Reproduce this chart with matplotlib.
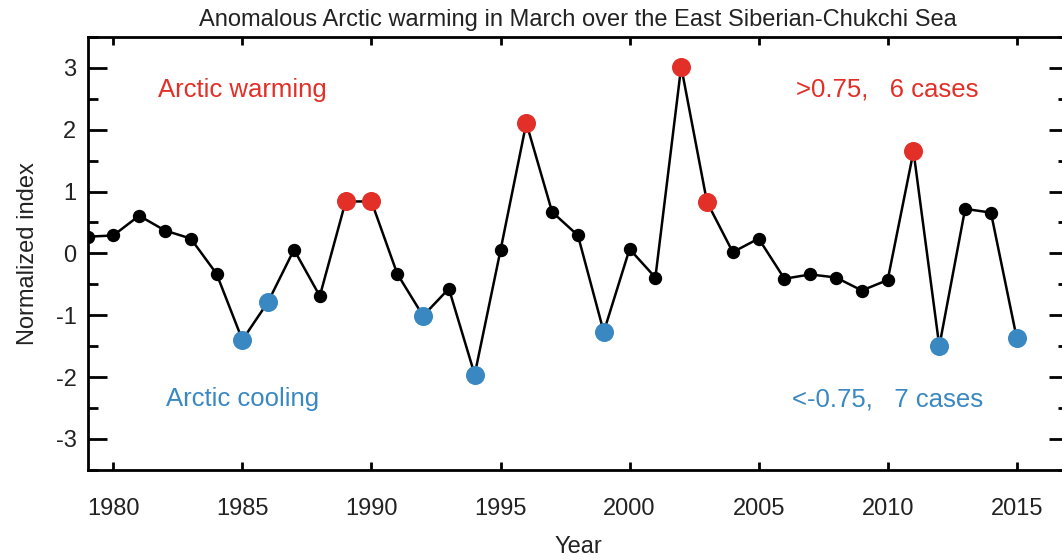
import matplotlib
matplotlib.use('Agg')
import matplotlib.pyplot as plt
from matplotlib.ticker import MultipleLocator

plt.rcParams['font.family'] = ['Liberation Sans', 'DejaVu Sans']
plt.rcParams['axes.unicode_minus'] = False

years = list(range(1979, 2016))
index = [0.27, 0.29, 0.61, 0.37, 0.24, -0.33, -1.40, -0.78, 0.06, -0.69,
         0.84, 0.84, -0.33, -1.01, -0.57, -1.96, 0.05, 2.11, 0.67, 0.29,
         -1.27, 0.07, -0.39, 3.02, 0.83, 0.02, 0.24, -0.41, -0.34, -0.39,
         -0.60, -0.43, 1.65, -1.50, 0.72, 0.66, -1.37]
threshold = 0.75

red = '#e22f27'
blue = '#3a88c2'

warm_x = [y for y, v in zip(years, index) if v > threshold]
warm_y = [v for v in index if v > threshold]
cool_x = [y for y, v in zip(years, index) if v < -threshold]
cool_y = [v for v in index if v < -threshold]

fig = plt.figure(figsize=(10.62, 5.6), dpi=100)
ax = fig.add_axes([0.0824, 0.161, 0.9236, 0.773])

ax.plot(years, index, color='black', lw=1.8, marker='o', ms=8.6, zorder=2)
ax.plot(warm_x, warm_y, 'o', color=red, ms=13.7, mec='none', zorder=3)
ax.plot(cool_x, cool_y, 'o', color=blue, ms=13.7, mec='none', zorder=3)

ax.text(1985, 2.65, 'Arctic warming', color=red, fontsize=18.5,
        ha='center', va='center')
ax.text(2010, 2.65, '>0.75,   %d cases' % len(warm_x), color=red,
        fontsize=18.5, ha='center', va='center')
ax.text(1985, -2.36, 'Arctic cooling', color=blue, fontsize=18.5,
        ha='center', va='center')
ax.text(2010, -2.36, '<-0.75,   %d cases' % len(cool_x), color=blue,
        fontsize=18.5, ha='center', va='center')

ax.set_xlim(1979, 2017)
ax.set_ylim(-3.5, 3.5)
ax.xaxis.set_major_locator(MultipleLocator(5))
ax.yaxis.set_major_locator(MultipleLocator(1))
ax.yaxis.set_minor_locator(MultipleLocator(0.5))

for s in ax.spines.values():
    s.set_linewidth(2)
ax.tick_params(axis='x', which='major', direction='in', length=6, width=2,
               top=True, labelsize=17, pad=20, colors='black',
               labelcolor='#222222')
ax.tick_params(axis='y', which='major', direction='in', length=14, width=2,
               right=True, labelsize=17, pad=8, labelcolor='#222222')
ax.tick_params(axis='y', which='minor', direction='in', length=7, width=2,
               right=True)

ax.set_xlabel('Year', fontsize=17, color='#222222', labelpad=12)
ax.set_ylabel('Normalized index', fontsize=17, color='#222222', labelpad=12)
ax.set_title('Anomalous Arctic warming in March over the East Siberian-Chukchi Sea',
             fontsize=17, color='#222222', pad=8)

fig.savefig('out.png', dpi=100)
